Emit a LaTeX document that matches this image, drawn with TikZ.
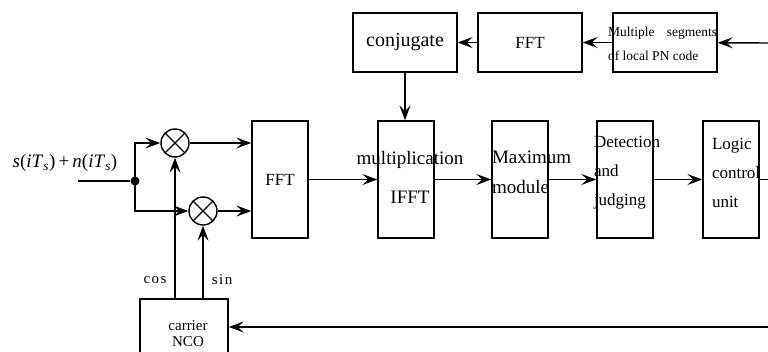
\documentclass[tikz,border=0pt]{standalone}
\usepackage{fontspec}
\setmainfont{Liberation Serif}
\newfontfamily\widefont[LetterSpace=10]{Liberation Serif}
\usetikzlibrary{positioning,arrows.meta}

\tikzset{
  blk/.style={draw, minimum width=56pt, minimum height=117pt, inner sep=0pt},
  topblk/.style={draw, minimum width=104pt, minimum height=59pt, inner sep=0pt},
  mixer/.style={draw, circle, minimum size=28pt, inner sep=0pt,
    path picture={\draw (path picture bounding box.north west) -- (path picture bounding box.south east)
                        (path picture bounding box.south west) -- (path picture bounding box.north east);}},
  txt/.style={anchor=west, align=left, inner sep=0pt, font=\fontsize{17}{29}\selectfont},
}

\begin{document}
\begin{tikzpicture}[x=1pt, y=-1pt, line width=1.4pt, node distance=120pt, on grid,
    >={Stealth[length=15pt,width=11pt,inset=6pt]}, font=\fontsize{17}{20}\selectfont]
  \useasboundingbox (0,0) rectangle (768,351);
  \clip (0,0) rectangle (768,351);

  % main row
  \node[blk] (fftA) at (280,179.5) {FFT};
  \node[blk] (mult) [right=126pt of fftA] {};
  \node[blk] (maxmod) [right=114pt of mult] {};
  \node[blk] (detect) [right=105pt of maxmod] {};
  \node[blk] (logic) [right=106pt of detect] {};
  \node[inner sep=0pt, align=center, font=\fontsize{19}{39}\selectfont] (multtxt) at (410,177) {multiplication\\IFFT};
  \node[txt, font=\fontsize{19}{30}\selectfont] (maxtxt) at ([yshift=7pt]maxmod.west) {Maximum\\module};
  \node[txt] (dettxt) at ([xshift=-3pt, yshift=7pt]detect.west) {Detection\\and\\judging};
  \node[txt] (logtxt) at ([xshift=9pt, yshift=7pt]logic.west) {Logic\\control\\unit};

  % local code branch
  \node[topblk, font=\fontsize{20}{20}\selectfont] (conj) at (405,42.5) {\raisebox{4pt}{conjugate}};
  \node[topblk] (fftB) [right=125pt of conj] {\raisebox{-9pt}{FFT}};
  \node[topblk] (pncode) [right=135pt of fftB] {};
  \node[txt, font=\fontsize{13.5}{24}\selectfont] (pntxt) at ([xshift=-5pt, yshift=-1pt]pncode.west)
    {\makebox[109pt][s]{Multiple segments}\\of local PN code};

  % mixers and input
  \node[mixer] (mixI) at (175,143) {};
  \node[mixer] (mixQ) at (203,211) {};
  \node[circle, fill, inner sep=0pt, minimum size=9pt] (split) at (135,181) {};
  \coordinate (in) at (78,181);
  \node (sig) at (65,163) {\fontsize{19}{20}\selectfont\textit{s}(\textit{iT}\textsubscript{\textit{s}})\,+\,\textit{n}(\textit{iT}\textsubscript{\textit{s}})};

  % carrier NCO
  \node[draw, minimum width=88pt, minimum height=72pt, inner sep=0pt] (nco) at (184,335) {};
  \node[align=center, inner sep=0pt, font=\fontsize{15}{16}\selectfont] (ncotxt) at (188,334) {carrier\\NCO};
  \node[font=\widefont\fontsize{15}{16}\selectfont] (cos) at (155,280) {cos};
  \node[font=\widefont\fontsize{15}{16}\selectfont] (sin) at (222,280) {sin};

  % loose ends
  \coordinate (fbtop) at (770,43);
  \coordinate (fbout) at (770,179.5);
  \coordinate (fbnco) at (770,327);

  \draw (in) -- (split);
  \draw[->] (split.center) |- (mixI.west);
  \draw[->] (split.center) |- (mixQ.west);
  \draw[->] (mixI) -- (mixI -| fftA.west);
  \draw[->] (mixQ) -- (mixQ -| fftA.west);
  \draw[->] (fftA) -- (mult);
  \draw[->] (mult) -- (maxmod);
  \draw[->] (maxmod) -- (detect);
  \draw[->] (detect) -- (logic);
  \draw (logic) -- (fbout);

  \draw[->] (fbtop) -- (pncode);
  \draw[->] (pncode) -- (fftB);
  \draw[->] (fftB) -- (conj);
  \draw[->] (conj) -- (conj |- mult.north);

  \draw[->] (nco.north -| mixI) -- (mixI);
  \draw[->] (nco.north -| mixQ) -- (mixQ);
  \draw[->] (fbnco) -- (fbnco -| nco.east);
\end{tikzpicture}
\end{document}
